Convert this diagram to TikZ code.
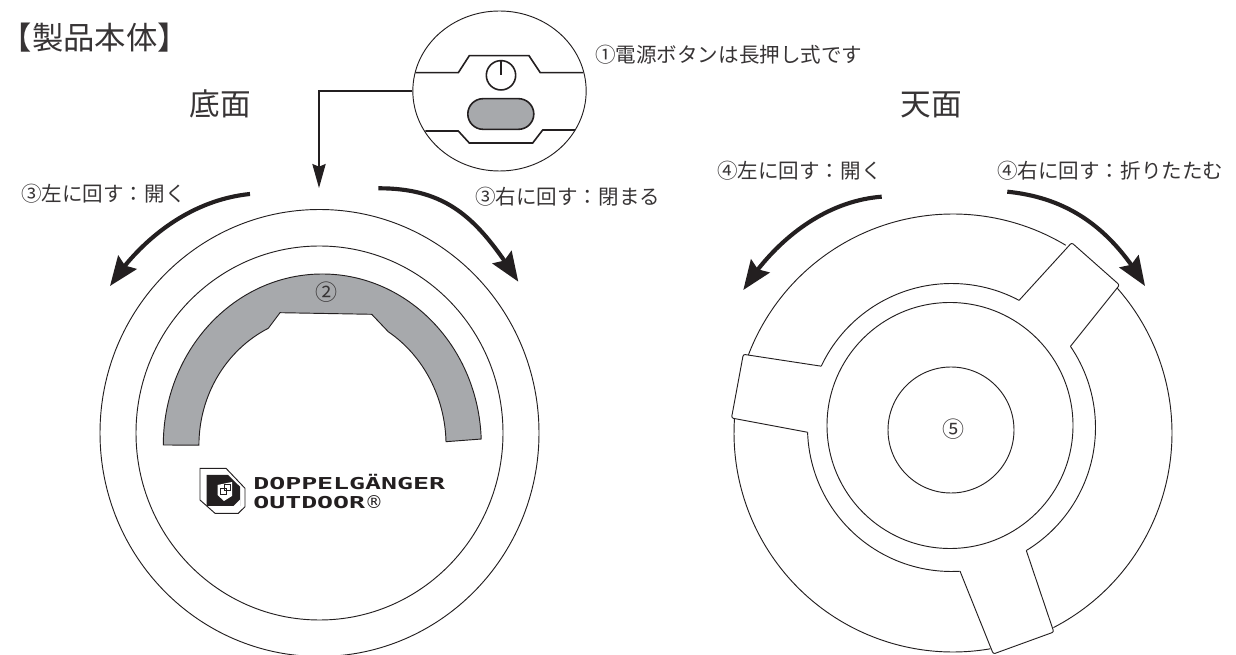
\documentclass[tikz,border=0pt]{standalone}
\usepackage{fontspec}
\setmainfont{Noto Sans CJK JP}
\newfontfamily\logofont[FakeStretch=1.62]{DejaVu Sans Mono}
\newfontfamily\logomark{DejaVu Sans}
\usetikzlibrary{arrows.meta,bending,shapes,positioning,calc}

\begin{document}
\begin{tikzpicture}[x=0.75pt,y=-0.75pt]
        \definecolor{inkdark}{RGB}{35,31,32}
        \definecolor{textdark}{RGB}{55,52,53}
        \definecolor{partgray}{RGB}{167,169,172}
        \tikzset{
            thinline/.style={draw=inkdark, line width=0.7pt},
            lensline/.style={draw=inkdark, line width=1.2pt},
            armline/.style={thinline, rounded corners=1.5pt},
            turnarrow/.style={draw=inkdark, line width=3.1pt, -{Stealth[length=22pt,width=17pt,inset=3pt]}},
            jplabel/.style={font=\fontsize{15.4}{18}\selectfont, text=textdark, anchor=west, inner sep=0pt},
            headlabel/.style={font=\fontsize{23}{28}\selectfont, text=textdark, inner sep=0pt},
            numlabel/.style={font=\fontsize{16.5}{18}\selectfont, text=textdark, inner sep=0pt},
            logolabel/.style={font=\logofont\fontsize{12.3}{14}\selectfont\bfseries, text=inkdark, anchor=west, inner sep=0pt}
        }
        \useasboundingbox (0,0) rectangle (1236,655);

        % Headings
        \node[headlabel, font=\fontsize{23.5}{30}\selectfont, anchor=west] (title) at (0.5,38) {【製品本体】};
        \node[headlabel] (bottomhead) at (220,104) {底面};
        \node[headlabel] (tophead) at (931,105) {天面};

        % Lens with the power button
        \node[ellipse, thinline, minimum width=130pt, minimum height=120pt, inner sep=0pt] (lens) at (499.5,91) {};
        \draw[lensline] (415.3,72.7) -- (458.3,72.7) -- (469.3,55.7) -- (529,55.7) -- (540.3,72.7) -- (583.3,72.7);
        \draw[lensline] (425.3,131) -- (458.3,131) -- (469.3,143) -- (532.7,143) -- (542.7,130) -- (575,130);
        \node[circle, lensline, minimum size=22pt, inner sep=0pt] (powerring) at (501,75.3) {};
        \draw[lensline] (powerring.north) -- (powerring.center);
        \node[lensline, fill=partgray, minimum width=49.5pt, minimum height=23pt, rounded corners=11.5pt, inner sep=0pt] (powerbutton) at (500.8,114) {};
        \node[jplabel] (powertext) at (595,55) {①電源ボタンは長押し式です};

        % Connector from the lens down to the base
        \coordinate (dropend) at (319,188);
        \draw[draw=inkdark, line width=1pt, -{Stealth[length=18pt,width=10pt,inset=2pt]}] (lens.west) -| (dropend);

        % Base view
        \coordinate (basec) at (319.5,433);
        \draw[thinline] (basec) ellipse [x radius=219.5, y radius=223.5];
        \draw[thinline] (basec) ellipse [x radius=183.5, y radius=187];
        \draw[thinline, fill=partgray] (163.3,445) arc[start angle=180, end angle=358, x radius=159, y radius=171]
            -- (446,441.7) arc[start angle=-1.5, end angle=-57.8, x radius=123.5, y radius=134]
            -- (371.7,314.3) -- (280,312.7) -- (268.3,328.3)
            arc[start angle=244, end angle=180, x radius=123.5, y radius=130] -- cycle;
        \node[numlabel] (basepart) at (326,292.3) {②};

        % Logo
        \draw[thinline] (200,468.3) -- (226,468.3) -- (245,488.3) -- (245,506.7) -- (238.3,513.3) -- (215,513.3) -- (200,500) -- cycle;
        \fill[inkdark] (206.7,475) -- (228,475) -- (240,486.7) -- (240,506) -- (206.7,506) -- cycle;
        \fill[white] (233.5,506) -- (240,499.5) -- (240,506) -- cycle;
        \fill[white] (217.5,485) -- (232,482) -- (232,496) -- (224,501) -- (217.5,495) -- cycle;
        \draw[draw=inkdark, line width=0.5pt] (220,488) rectangle (226,494);
        \draw[draw=inkdark, line width=0.5pt] (224,484.5) rectangle (230,490.5);
        \node[logolabel] (logotop) at (253,481.7) {DOPPELGÄNGER};
        \node[logolabel] (logobottom) at (253,501.7) {OUTDOOR{\logomark\mdseries\fontsize{13.4}{14}\selectfont ®}};

        % Top view
        \coordinate (outerc) at (953,433);
        \coordinate (trackc) at (951.5,427.5);
        \draw[thinline] (950,425.5) circle [radius=123];
        \draw[thinline] (951,430) circle [radius=63];
        \node[numlabel] (toppart) at (953.3,429.3) {⑤};
        \draw[thinline] ([shift={(-41.4:219)}]outerc) arc[start angle=-41.4, end angle=62.7, radius=219];
        \draw[thinline] ([shift={(80.2:219)}]outerc) arc[start angle=80.2, end angle=183.7, radius=219];
        \draw[thinline] ([shift={(200.9:219)}]outerc) arc[start angle=200.9, end angle=301, radius=219];
        \draw[thinline] ([shift={(-34.3:144)}]trackc) arc[start angle=-34.3, end angle=58.7, radius=144];
        \draw[thinline] ([shift={(86.6:144)}]trackc) arc[start angle=86.6, end angle=178.1, radius=144];
        \draw[thinline] ([shift={(205.2:144)}]trackc) arc[start angle=205.2, end angle=298, radius=144];
        % Three arms
        \draw[armline] ([shift={(-62:144)}]trackc) -- (1071.7,242.7) -- (1119.5,285) -- ([shift={(-34.3:144)}]trackc);
        \draw[armline] ([shift={(58.7:144)}]trackc) -- (1053.8,632) -- (993.3,654) -- ([shift={(86.6:144)}]trackc);
        \draw[armline] ([shift={(178.1:144)}]trackc) -- (731.5,418) -- (743.3,354.3) -- ([shift={(205.2:144)}]trackc);

        % Turning arrows and their labels
        \coordinate (baseleft) at (110,286);
        \coordinate (baseright) at (518.3,281.7);
        \coordinate (topleft) at (743.3,290);
        \coordinate (topright) at (1145,286);
        \draw[turnarrow] (250,194) .. controls (190,200) and (140,240) .. (baseleft);
        \draw[turnarrow] (378.3,188.3) .. controls (450,188) and (480,222) .. (baseright);
        \draw[turnarrow] (881.7,196.7) .. controls (825,201) and (775,240) .. (topleft);
        \draw[turnarrow] (1007.3,191.7) .. controls (1070,198) and (1112,230) .. (topright);
        \node[jplabel] (baselefttext) at (21,194) {③左に回す：開く};
        \node[jplabel] (baserighttext) at (475,197) {③右に回す：閉まる};
        \node[jplabel] (toplefttext) at (717,171) {④左に回す：開く};
        \node[jplabel] (toprighttext) at (997,171) {④右に回す：折りたたむ};
    \end{tikzpicture}
\end{document}
